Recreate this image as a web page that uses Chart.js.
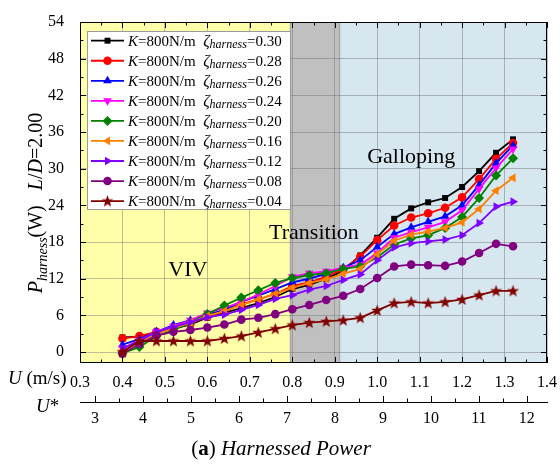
<!DOCTYPE html>
<html>
<head>
<meta charset="utf-8">
<script src="https://cdn.jsdelivr.net/npm/chart.js@4.4.1/dist/chart.umd.min.js"></script>
<style>
  body { margin: 0; background: #fff; }
  canvas { display: block; }
</style>
</head>
<body>
<canvas id="powerChart" width="560" height="470"></canvas>
<script>
// flow speed U (m/s) at each measured point
const uSpeed = [0.40, 0.44, 0.48, 0.52, 0.56, 0.60, 0.64, 0.68, 0.72, 0.76, 0.80, 0.84,
                0.88, 0.92, 0.96, 1.00, 1.04, 1.08, 1.12, 1.16, 1.20, 1.24, 1.28, 1.32];

// harnessed power (W) per damping ratio
const p030 = [2.4, 2.5, 3.2, 3.8, 4.5, 5.6, 6.4, 7.2, 8.0, 9.0, 10.3, 11.0, 12.0, 13.3, 15.8, 18.7, 21.8, 23.5, 24.5, 25.2, 27.0, 29.6, 32.6, 34.8];
const p028 = [2.2, 2.6, 3.3, 3.9, 4.7, 5.8, 6.7, 7.8, 8.6, 9.5, 10.8, 11.4, 12.3, 13.6, 15.6, 18.3, 20.7, 22.0, 22.7, 23.6, 25.3, 28.3, 31.6, 34.2];
const p026 = [1.2, 2.1, 3.3, 4.4, 5.2, 6.1, 6.9, 8.2, 9.2, 10.3, 11.4, 12.0, 12.8, 13.8, 15.0, 17.2, 19.3, 20.4, 21.3, 22.2, 24.0, 27.3, 30.9, 33.8];
const p024 = [0.6, 1.9, 3.3, 4.2, 5.2, 6.4, 7.2, 8.2, 9.4, 10.8, 12.3, 12.9, 13.2, 13.8, 14.3, 16.2, 18.7, 19.6, 20.4, 21.3, 23.2, 26.7, 30.1, 33.2];
const p020 = [-0.2, 0.8, 2.6, 3.6, 4.8, 6.2, 7.6, 8.9, 10.1, 11.3, 12.1, 12.6, 12.9, 13.6, 14.0, 15.5, 17.6, 18.6, 19.1, 20.3, 22.1, 25.2, 28.9, 31.7];
const p016 = [0.2, 1.6, 2.9, 3.9, 4.8, 5.9, 6.7, 7.7, 8.6, 9.5, 10.5, 11.3, 11.9, 12.8, 13.6, 16.0, 18.2, 19.2, 19.7, 20.3, 21.2, 23.4, 26.4, 28.5];
const p012 = [0.6, 1.8, 3.3, 4.1, 4.9, 5.7, 6.1, 6.9, 7.7, 8.7, 9.3, 10.2, 10.8, 11.8, 12.7, 15.0, 17.1, 17.8, 18.1, 18.4, 19.1, 21.1, 23.8, 24.6];
const p008 = [-0.3, 1.3, 2.7, 3.3, 3.6, 4.0, 4.5, 5.3, 5.6, 6.2, 7.0, 7.7, 8.5, 9.2, 10.3, 12.1, 14.0, 14.3, 14.2, 14.1, 14.8, 16.2, 17.7, 17.3];
const p004 = [0.0, 1.8, 1.8, 1.8, 1.8, 1.8, 2.2, 2.6, 3.2, 3.8, 4.4, 4.8, 5.0, 5.2, 5.6, 6.8, 8.0, 8.2, 8.0, 8.2, 8.6, 9.3, 10.0, 10.0];

const zetaLabels = ['0.30', '0.28', '0.26', '0.24', '0.20', '0.16', '0.12', '0.08', '0.04'];
const stiffnessLabel = '800N/m';

// tick labels
const uTicks = [0.3, 0.4, 0.5, 0.6, 0.7, 0.8, 0.9, 1.0, 1.1, 1.2, 1.3, 1.4];
const uStarTicks = [3, 4, 5, 6, 7, 8, 9, 10, 11, 12];
const powerTicks = [0, 6, 12, 18, 24, 30, 36, 42, 48, 54];

// flow regimes (U in m/s)
const regimeNames = ['VIV', 'Transition', 'Galloping'];
const regimeStart = [0.3, 0.795, 0.91];
const regimeEnd = [0.795, 0.91, 1.4];

const SERIF = '"Liberation Serif", "Times New Roman", serif';

function starImage(color) {
  const c = document.createElement('canvas');
  c.width = 13; c.height = 13;
  const g = c.getContext('2d');
  g.fillStyle = color;
  g.beginPath();
  for (let i = 0; i < 10; i++) {
    const r = i % 2 === 0 ? 6.3 : 2.6;
    const a = -Math.PI / 2 + i * Math.PI / 5;
    g.lineTo(6.5 + r * Math.cos(a), 6.8 + r * Math.sin(a));
  }
  g.closePath();
  g.fill();
  return c;
}

const seriesValues = [p030, p028, p026, p024, p020, p016, p012, p008, p004];
const seriesColors = ['#000000', '#ff0000', '#0000ff', '#ff00ff', '#008000', '#ff8000', '#8000ff', '#800080', '#800000'];
const seriesMarkers = [
  { style: 'rect', rot: 0, r: 4.2 },
  { style: 'circle', rot: 0, r: 4.3 },
  { style: 'triangle', rot: 0, r: 5 },
  { style: 'triangle', rot: 180, r: 5 },
  { style: 'rectRot', rot: 0, r: 5 },
  { style: 'triangle', rot: -90, r: 5 },
  { style: 'triangle', rot: 90, r: 5 },
  { style: 'circle', rot: 0, r: 4.3 },
  { style: starImage('#800000'), rot: 0, r: 6 }
];

const datasets = seriesValues.map((vals, i) => ({
  label: 'K=' + stiffnessLabel + ' ζharness=' + zetaLabels[i],
  data: uSpeed.map((u, j) => ({ x: u, y: vals[j] })),
  borderColor: seriesColors[i],
  backgroundColor: seriesColors[i],
  borderWidth: 1.8,
  pointStyle: seriesMarkers[i].style,
  pointRotation: seriesMarkers[i].rot,
  pointRadius: seriesMarkers[i].r,
  pointBorderWidth: 0,
  tension: 0,
  order: seriesValues.length - i
}));

function drawRich(ctx, parts, x, y) {
  let cx = x;
  parts.forEach(p => {
    ctx.font = p.font;
    ctx.fillText(p.t, cx, y + (p.dy || 0));
    cx += ctx.measureText(p.t).width;
  });
  return cx - x;
}

function richWidth(ctx, parts) {
  let w = 0;
  parts.forEach(p => { ctx.font = p.font; w += ctx.measureText(p.t).width; });
  return w;
}

const decor = {
  id: 'decor',
  beforeDraw(chart) {
    const { ctx, chartArea: a, scales: { x } } = chart;
    const fills = ['#ffffaa', '#c0c0c0', '#d6e7ef'];
    ctx.save();
    regimeNames.forEach((n, i) => {
      const x0 = x.getPixelForValue(regimeStart[i]);
      const x1 = x.getPixelForValue(regimeEnd[i]);
      ctx.fillStyle = fills[i];
      ctx.fillRect(x0, a.top, x1 - x0, a.bottom - a.top);
    });
    ctx.strokeStyle = '#a8a8a8';
    ctx.lineWidth = 1.5;
    [regimeStart[1], regimeEnd[1]].forEach(v => {
      const px = Math.round(x.getPixelForValue(v)) + 0.5;
      ctx.beginPath(); ctx.moveTo(px, a.top); ctx.lineTo(px, a.bottom); ctx.stroke();
    });
    ctx.restore();
  },
  afterDatasetsDraw(chart) {
    const { ctx, chartArea: a, scales: { x, x2, y } } = chart;
    ctx.save();

    // regime labels
    ctx.fillStyle = '#000';
    ctx.font = '22px ' + SERIF;
    ctx.textAlign = 'center';
    ctx.textBaseline = 'middle';
    const labelPos = [[0.554, 13.4], [0.851, 19.5], [1.08, 31.9]];
    regimeNames.forEach((n, i) => {
      ctx.fillText(n, x.getPixelForValue(labelPos[i][0]), y.getPixelForValue(labelPos[i][1]));
    });

    // frame
    ctx.strokeStyle = '#000';
    ctx.lineWidth = 1;
    ctx.strokeRect(a.left + 0.5, a.top + 0.5, a.right - a.left - 1, a.bottom - a.top - 1);

    // inward ticks
    ctx.beginPath();
    for (let v = 0.3; v <= 1.4001; v += 0.05) {
      const px = Math.round(x.getPixelForValue(v)) + 0.5;
      const major = Math.abs(v * 10 - Math.round(v * 10)) < 0.01;
      const len = major ? 6 : 3.5;
      ctx.moveTo(px, a.bottom); ctx.lineTo(px, a.bottom - len);
      ctx.moveTo(px, a.top); ctx.lineTo(px, a.top + len);
    }
    for (let v = 0; v <= 54; v += 3) {
      const py = Math.round(y.getPixelForValue(v)) + 0.5;
      const len = v % 6 === 0 ? 6 : 3.5;
      ctx.moveTo(a.left, py); ctx.lineTo(a.left + len, py);
      ctx.moveTo(a.right, py); ctx.lineTo(a.right - len, py);
    }
    // U* axis ticks (upward)
    for (let v = 3; v <= 12.001; v += 0.5) {
      const px = Math.round(x2.getPixelForValue(v)) + 0.5;
      const len = Number.isInteger(v) ? 6 : 3.5;
      ctx.moveTo(px, x2.top); ctx.lineTo(px, x2.top - len);
    }
    ctx.stroke();

    // legend
    const lx = 87, ly = 31, lw = 203, lh = 178;
    ctx.fillStyle = '#fff';
    ctx.fillRect(lx, ly, lw, lh);
    ctx.strokeStyle = '#9a9a9a';
    ctx.strokeRect(lx + 0.5, ly + 0.5, lw, lh);
    ctx.textAlign = 'left';
    ctx.textBaseline = 'alphabetic';
    chart.data.datasets.forEach((ds, i) => {
      const ry = 40.7 + i * 20.05;
      ctx.strokeStyle = ds.borderColor;
      ctx.lineWidth = 1.8;
      ctx.beginPath(); ctx.moveTo(91, ry); ctx.lineTo(124, ry); ctx.stroke();
      ctx.fillStyle = ds.backgroundColor;
      Chart.helpers.drawPoint(ctx, {
        pointStyle: ds.pointStyle, rotation: ds.pointRotation,
        radius: ds.pointRadius, borderWidth: 0
      }, 107.5, ry);
      ctx.fillStyle = '#000';
      drawRich(ctx, [
        { t: 'K', font: 'italic 15px ' + SERIF },
        { t: '=' + stiffnessLabel, font: '15px ' + SERIF },
        { t: '  ', font: '15px ' + SERIF },
        { t: 'ζ', font: 'italic 16px ' + SERIF },
        { t: 'harness', font: 'italic 12px ' + SERIF, dy: 2 },
        { t: '=' + zetaLabels[i], font: '15px ' + SERIF }
      ], 128, ry + 5);
    });

    // axis titles
    ctx.fillStyle = '#000';
    const yTitle = [
      { t: 'P', font: 'italic 20px ' + SERIF },
      { t: 'harness', font: 'italic 14px ' + SERIF, dy: 5 },
      { t: '(W)', font: '20px ' + SERIF },
      { t: '   ', font: '20px ' + SERIF },
      { t: 'L', font: 'italic 20px ' + SERIF },
      { t: '/', font: '20px ' + SERIF },
      { t: 'D', font: 'italic 20px ' + SERIF },
      { t: '=2.00', font: '20px ' + SERIF }
    ];
    const tw = richWidth(ctx, yTitle);
    ctx.save();
    ctx.translate(42, 203);
    ctx.rotate(-Math.PI / 2);
    drawRich(ctx, yTitle, -tw / 2, 0);
    ctx.restore();

    drawRich(ctx, [
      { t: 'U', font: 'italic 19px ' + SERIF },
      { t: ' (m/s)', font: '19px ' + SERIF }
    ], 8, 384);
    drawRich(ctx, [
      { t: 'U', font: 'italic 19px ' + SERIF },
      { t: '*', font: '19px ' + SERIF }
    ], 36, 412);

    // caption
    const cap = [
      { t: '(', font: '21px ' + SERIF },
      { t: 'a', font: 'bold 21px ' + SERIF },
      { t: ') ', font: '21px ' + SERIF },
      { t: 'Harnessed Power', font: 'italic 21px ' + SERIF }
    ];
    drawRich(ctx, cap, 281 - richWidth(ctx, cap) / 2, 455);

    ctx.restore();
  }
};

const tickFont = { family: SERIF, size: 16 };

new Chart(document.getElementById('powerChart'), {
  type: 'line',
  data: { datasets },
  options: {
    responsive: false,
    animation: false,
    layout: { padding: { top: 22, right: 13, left: 0, bottom: 0 } },
    plugins: { legend: { display: false }, tooltip: { enabled: false } },
    scales: {
      x: {
        type: 'linear',
        position: 'bottom',
        min: 0.3,
        max: 1.4,
        weight: 0,
        afterBuildTicks: s => { s.ticks = uTicks.map(v => ({ value: v })); },
        afterFit: s => { s.height = 39; s.paddingLeft = 0; s.paddingRight = 0; },
        ticks: { font: tickFont, color: '#000', padding: 10, maxRotation: 0, autoSkip: false,
                 callback: v => v.toFixed(1) },
        grid: { color: 'rgba(110,110,110,0.45)', lineWidth: 1, drawTicks: false },
        border: { display: false }
      },
      x2: {
        type: 'linear',
        position: 'bottom',
        min: 2.687,
        max: 12.42,
        weight: 1,
        afterBuildTicks: s => { s.ticks = uStarTicks.map(v => ({ value: v })); },
        afterFit: s => { s.height = 68; s.paddingLeft = 0; s.paddingRight = 0; },
        ticks: { font: tickFont, color: '#000', padding: 7, maxRotation: 0, autoSkip: false },
        grid: { drawOnChartArea: false, drawTicks: false },
        border: { display: true, color: '#000', width: 1 }
      },
      y: {
        type: 'linear',
        min: -1.8,
        max: 54,
        afterBuildTicks: s => { s.ticks = powerTicks.map(v => ({ value: v })); },
        afterFit: s => { s.width = 80; s.paddingTop = 0; s.paddingBottom = 0; },
        ticks: { font: tickFont, color: '#000', padding: 16 },
        grid: { color: 'rgba(110,110,110,0.45)', lineWidth: 1, drawTicks: false },
        border: { display: false }
      }
    }
  },
  plugins: [decor]
});
</script>
</body>
</html>
